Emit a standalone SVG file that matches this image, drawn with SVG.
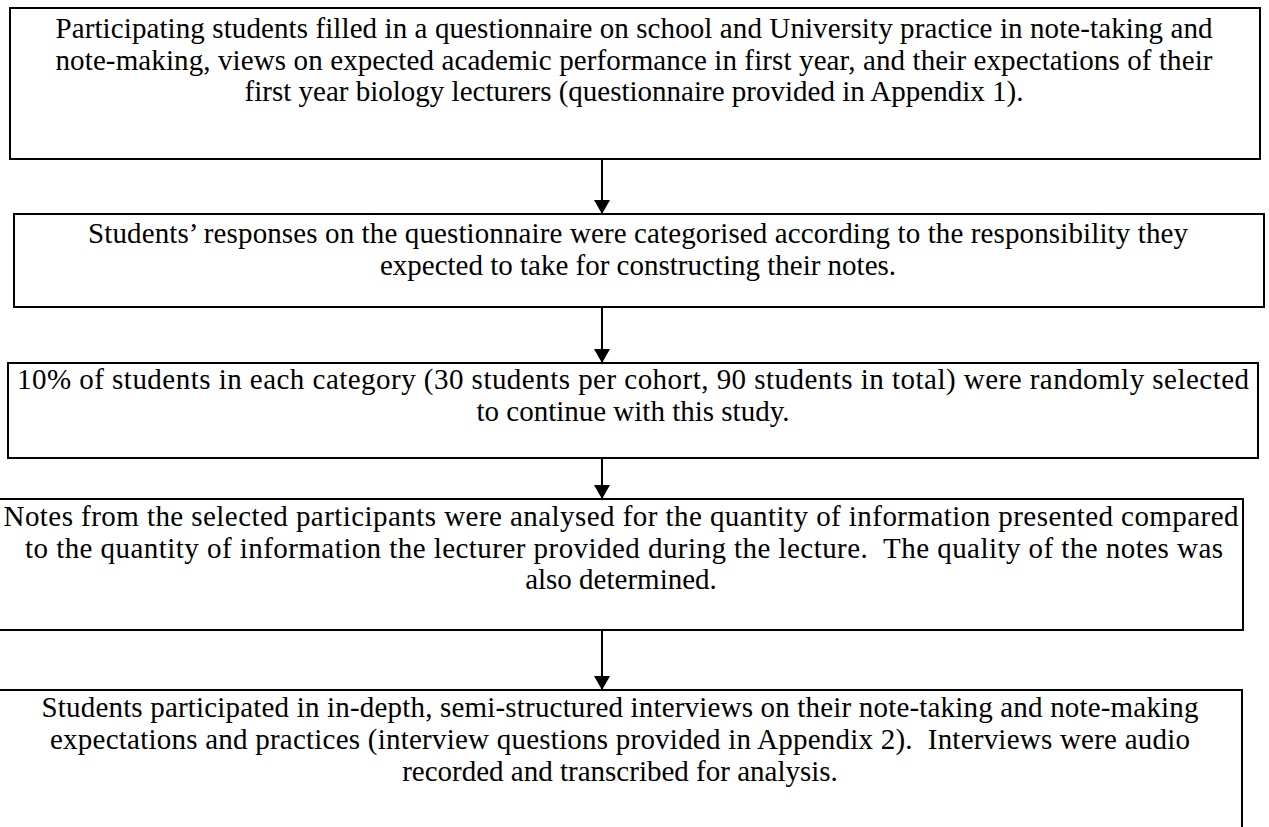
<svg xmlns="http://www.w3.org/2000/svg" width="1269" height="827" viewBox="0 0 1269 827">
  <style>
    .box { fill: #ffffff; stroke: #000000; stroke-width: 2; }
    .txt { font-family: "Liberation Serif", "Times New Roman", serif; font-size: 29px; fill: #000000; text-anchor: middle; }
    .conn { stroke: #000000; stroke-width: 2; fill: none; }
  </style>
  <defs>
    <marker id="arrow" viewBox="0 0 14 16" refX="14" refY="8" markerWidth="14" markerHeight="16" markerUnits="userSpaceOnUse" orient="auto">
      <path d="M0,0 L14,8 L0,16 Z" fill="#000000"/>
    </marker>
  </defs>
  <rect width="1269" height="827" fill="#ffffff"/>

  <g id="connectors">
    <line class="conn" x1="602" y1="159" x2="602" y2="214" marker-end="url(#arrow)"/>
    <line class="conn" x1="602" y1="307" x2="602" y2="363" marker-end="url(#arrow)"/>
    <line class="conn" x1="602" y1="458" x2="602" y2="499" marker-end="url(#arrow)"/>
    <line class="conn" x1="602" y1="630" x2="602" y2="690" marker-end="url(#arrow)"/>
  </g>

  <g id="step1">
    <rect class="box" x="10" y="8" width="1250" height="151"/>
    <text class="txt" x="634" y="38" textLength="1157" lengthAdjust="spacing">Participating students filled in a questionnaire on school and University practice in note-taking and</text>
    <text class="txt" x="634" y="70" textLength="1157" lengthAdjust="spacing">note-making, views on expected academic performance in first year, and their expectations of their</text>
    <text class="txt" x="634" y="101">first year biology lecturers (questionnaire provided in Appendix 1).</text>
  </g>

  <g id="step2">
    <rect class="box" x="14" y="214" width="1250" height="93"/>
    <text class="txt" x="638" y="243" textLength="1100" lengthAdjust="spacing">Students’ responses on the questionnaire were categorised according to the responsibility they</text>
    <text class="txt" x="638" y="275">expected to take for constructing their notes.</text>
  </g>

  <g id="step3">
    <rect class="box" x="8" y="363" width="1250" height="95"/>
    <text class="txt" x="633" y="389" textLength="1232" lengthAdjust="spacing">10% of students in each category (30 students per cohort, 90 students in total) were randomly selected</text>
    <text class="txt" x="633" y="421">to continue with this study.</text>
  </g>

  <g id="step4">
    <rect class="box" x="-1" y="499" width="1244" height="131"/>
    <text class="txt" x="621" y="526" textLength="1235" lengthAdjust="spacing">Notes from the selected participants were analysed for the quantity of information presented compared</text>
    <text class="txt" x="624" y="558" textLength="1198" lengthAdjust="spacing" xml:space="preserve">to the quantity of information the lecturer provided during the lecture.  The quality of the notes was</text>
    <text class="txt" x="621" y="589">also determined.</text>
  </g>

  <g id="step5">
    <rect class="box" x="-2" y="690" width="1244" height="150"/>
    <text class="txt" x="620" y="717" textLength="1157" lengthAdjust="spacing">Students participated in in-depth, semi-structured interviews on their note-taking and note-making</text>
    <text class="txt" x="620" y="749" textLength="1140" lengthAdjust="spacing" xml:space="preserve">expectations and practices (interview questions provided in Appendix 2).  Interviews were audio</text>
    <text class="txt" x="620" y="781">recorded and transcribed for analysis.</text>
  </g>
</svg>
